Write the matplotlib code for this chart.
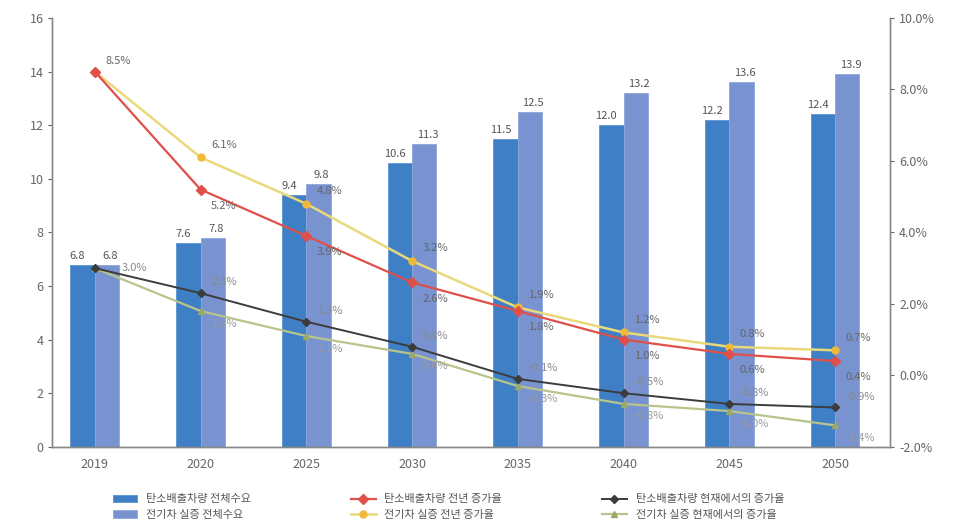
import matplotlib
matplotlib.use("Agg")
import matplotlib.pyplot as plt
import numpy as np

plt.rcParams["font.family"] = ["Noto Sans CJK KR", "DejaVu Sans"]

years = ["2019", "2020", "2025", "2030", "2035", "2040", "2045", "2050"]

# bars (left axis)
ice_total = [6.8, 7.6, 9.4, 10.6, 11.5, 12.0, 12.2, 12.4]
ev_total = [6.8, 7.8, 9.8, 11.3, 12.5, 13.2, 13.6, 13.9]

# growth rates, % (right axis)
ice_yoy = [8.5, 5.2, 3.9, 2.6, 1.8, 1.0, 0.6, 0.4]
ev_yoy = [8.5, 6.1, 4.8, 3.2, 1.9, 1.2, 0.8, 0.7]
ice_base = [3.0, 2.3, 1.5, 0.8, -0.1, -0.5, -0.8, -0.9]
ev_base = [3.0, 1.8, 1.1, 0.6, -0.3, -0.8, -1.0, -1.4]

labels = [
    "탄소배출차량 전체수요",
    "전기차 실증 전체수요",
    "탄소배출차량 전년 증가율",
    "전기차 실증 전년 증가율",
    "탄소배출차량 현재에서의 증가율",
    "전기차 실증 현재에서의 증가율",
]

fig = plt.figure(figsize=(9.54, 5.30), dpi=100)
ax = fig.add_axes([0.055, 0.157, 0.878, 0.809])
ax2 = ax.twinx()

x = np.arange(len(years))
w = 0.23
b1 = ax.bar(x - w / 2, ice_total, w, color="#3f7fc5", edgecolor="#5b93d0", linewidth=0.6, zorder=2)
b2 = ax.bar(x + w / 2, ev_total, w, color="#7893cf", edgecolor="#8ea6da", linewidth=0.6, zorder=2)
for xi, v in zip(x, ice_total):
    ax.text(xi - w / 2 - 0.05, v + 0.15, f"{v:.1f}", ha="center", va="bottom", fontsize=8, color="#555555")
for xi, v in zip(x, ev_total):
    ax.text(xi + w / 2 + 0.03, v + 0.15, f"{v:.1f}", ha="center", va="bottom", fontsize=8, color="#555555")

ax.set_ylim(0, 16)
ax.set_yticks(range(0, 17, 2))
ax.set_xlim(-0.4, 7.52)
ax.set_xticks(x)
ax.set_xticklabels(years)

l1, = ax2.plot(x, ice_yoy, color="#e0504a", marker="D", ms=5, lw=1.6, zorder=4)
l2, = ax2.plot(x, ev_yoy, color="#ead97a", marker="o", mfc="#f0b93a", mec="#f0b93a", ms=5, lw=1.8, zorder=3)
l3, = ax2.plot(x, ice_base, color="#3c3c3c", marker="D", ms=4, lw=1.4, zorder=4)
l4, = ax2.plot(x, ev_base, color="#b9c48a", marker="^", mfc="#9aa86a", mec="#9aa86a", ms=5, lw=1.6, zorder=3)


def pct_labels(vals, dy, color, first=None):
    # first: (dx, dy) for the 2019 label, or None to skip it
    for i, (xi, v) in enumerate(zip(x, vals)):
        ox, oy = 0.1, dy
        if i == 0:
            if first is None:
                continue
            ox, oy = first
        ax2.text(xi + ox, v + oy, f"{v:.1f}%", ha="left", va="center",
                 fontsize=8, color=color, zorder=5)


pct_labels(ice_yoy, -0.45, "#666666", first=(0.1, 0.3))
pct_labels(ev_yoy, 0.35, "#666666")
pct_labels(ice_base, 0.3, "#8a8a8a", first=(0.25, 0.0))
pct_labels(ev_base, -0.35, "#9a9a9a")

ax2.set_ylim(-2, 10)
ax2.set_yticks(np.arange(-2, 10.1, 2))
ax2.set_yticklabels([f"{t:.1f}%" for t in np.arange(-2, 10.1, 2)])

for a in (ax, ax2):
    a.spines["top"].set_visible(False)
    for s in ("left", "right", "bottom"):
        a.spines[s].set_color("#888888")
        a.spines[s].set_linewidth(1.0)
    a.tick_params(colors="#666666", labelsize=9, length=3)
ax.tick_params(axis="x", length=0, pad=8)

fig.legend([b1, b2, l1, l2, l3, l4], labels, ncol=3, loc="lower center",
           bbox_to_anchor=(0.47, 0.0), frameon=False, fontsize=8,
           columnspacing=9, handlelength=2.2, labelcolor="#555555")

fig.savefig("out.png", dpi=100)
